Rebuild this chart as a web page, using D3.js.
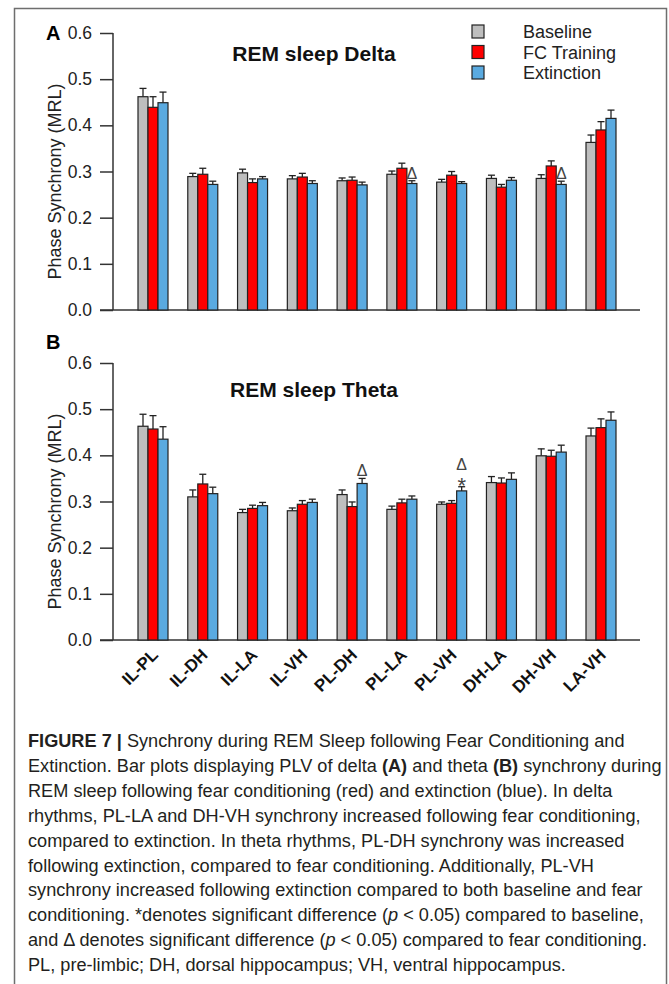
<!DOCTYPE html>
<html>
<head>
<meta charset="utf-8">
<script src="https://cdn.jsdelivr.net/npm/d3@7"></script>
<style>
  body { margin: 0; background: #fff; }
  svg { display: block; }
  text { font-family: "Liberation Sans", Arial, sans-serif; }
</style>
</head>
<body>
<div id="chart"></div>
<script>
var pairs = ["IL-PL", "IL-DH", "IL-LA", "IL-VH", "PL-DH", "PL-LA", "PL-VH", "DH-LA", "DH-VH", "LA-VH"];
var seriesNames = ["Baseline", "FC Training", "Extinction"];
var seriesColors = ["#bebebe", "#ff0000", "#5aaae0"];
var yTicks = [0, 0.1, 0.2, 0.3, 0.4, 0.5, 0.6];

// delta (panel A): means and SEM
var deltaBaseline = [0.462, 0.289, 0.297, 0.284, 0.280, 0.294, 0.277, 0.285, 0.285, 0.363];
var deltaBaselineErr = [0.018, 0.007, 0.008, 0.007, 0.006, 0.007, 0.006, 0.007, 0.008, 0.016];
var deltaFC = [0.439, 0.294, 0.276, 0.288, 0.281, 0.307, 0.292, 0.266, 0.312, 0.390];
var deltaFCErr = [0.023, 0.013, 0.008, 0.008, 0.007, 0.011, 0.008, 0.006, 0.011, 0.018];
var deltaExt = [0.449, 0.272, 0.284, 0.274, 0.271, 0.274, 0.274, 0.281, 0.272, 0.415];
var deltaExtErr = [0.023, 0.007, 0.005, 0.006, 0.006, 0.006, 0.004, 0.006, 0.007, 0.018];

// theta (panel B)
var thetaBaseline = [0.463, 0.310, 0.276, 0.280, 0.315, 0.283, 0.294, 0.341, 0.399, 0.442];
var thetaBaselineErr = [0.026, 0.015, 0.007, 0.006, 0.010, 0.007, 0.005, 0.013, 0.015, 0.017];
var thetaFC = [0.457, 0.338, 0.285, 0.294, 0.289, 0.297, 0.296, 0.340, 0.398, 0.460];
var thetaFCErr = [0.029, 0.021, 0.007, 0.008, 0.010, 0.008, 0.006, 0.011, 0.013, 0.019];
var thetaExt = [0.435, 0.317, 0.291, 0.298, 0.339, 0.305, 0.323, 0.348, 0.407, 0.476];
var thetaExtErr = [0.027, 0.014, 0.007, 0.007, 0.011, 0.007, 0.009, 0.014, 0.015, 0.018];

// significance marks (series index 2 = Extinction)
var deltaMarks = [{pair: "PL-LA", series: 2, marks: ["Δ"]}, {pair: "DH-VH", series: 2, marks: ["Δ"]}];
var thetaMarks = [{pair: "PL-DH", series: 2, marks: ["Δ"]}, {pair: "PL-VH", series: 2, marks: ["Δ", "*"]}];

var captionLines = [
  [["FIGURE 7 | ", "b"], ["Synchrony during REM Sleep following Fear Conditioning and", ""]],
  [["Extinction. Bar plots displaying PLV of delta ", ""], ["(A)", "b"], [" and theta ", ""], ["(B)", "b"], [" synchrony during", ""]],
  [["REM sleep following fear conditioning (red) and extinction (blue). In delta", ""]],
  [["rhythms, PL-LA and DH-VH synchrony increased following fear conditioning,", ""]],
  [["compared to extinction. In theta rhythms, PL-DH synchrony was increased", ""]],
  [["following extinction, compared to fear conditioning. Additionally, PL-VH", ""]],
  [["synchrony increased following extinction compared to both baseline and fear", ""]],
  [["conditioning. *denotes significant difference (", ""], ["p", "i"], [" < 0.05) compared to baseline,", ""]],
  [["and Δ denotes significant difference (", ""], ["p", "i"], [" < 0.05) compared to fear conditioning.", ""]],
  [["PL, pre-limbic; DH, dorsal hippocampus; VH, ventral hippocampus.", ""]]
];

var width = 669, height = 984;

var svg = d3.select("#chart").append("svg")
    .attr("width", width)
    .attr("height", height);

svg.append("rect")
    .attr("x", 14.5).attr("y", 8.5)
    .attr("width", 652).attr("height", 990)
    .attr("fill", "none")
    .attr("stroke", "#6e6e6e")
    .attr("stroke-width", 1.5);

var x = d3.scalePoint().domain(pairs).range([153, 601]);
var xSub = d3.scaleBand().domain([0, 1, 2]).range([-15, 15]);

function drawPanel(opts) {
    var y = d3.scaleLinear().domain([0, 0.6]).range([opts.bottom, opts.top]);
    var g = svg.append("g");

    // y axis
    var yAxis = g.append("g")
        .attr("transform", "translate(113,0)")
        .call(d3.axisLeft(y).tickValues(yTicks).tickFormat(d3.format(".1f")).tickSize(13).tickPadding(8));
    yAxis.select(".domain").attr("stroke", "#333").attr("stroke-width", 1.5).attr("d", "M0," + y(0.6) + "V" + y(0));
    yAxis.selectAll(".tick line").attr("stroke", "#333").attr("stroke-width", 1.5);
    yAxis.selectAll(".tick text").attr("font-size", 17.5).attr("fill", "#222")
        .attr("font-family", "'Liberation Sans', Arial, sans-serif");

    // x axis line
    g.append("line")
        .attr("x1", 100).attr("x2", 640)
        .attr("y1", y(0)).attr("y2", y(0))
        .attr("stroke", "#333").attr("stroke-width", 1.5);

    g.append("text")
        .attr("transform", "translate(61," + ((y(0) + y(0.6)) / 2 + 10) + ") rotate(-90)")
        .attr("text-anchor", "middle")
        .attr("font-size", 18)
        .attr("fill", "#222")
        .text("Phase Synchrony (MRL)");

    g.append("text")
        .attr("x", 46).attr("y", opts.letterY)
        .attr("font-size", 20).attr("font-weight", "bold")
        .text(opts.letter);

    g.append("text")
        .attr("x", 314).attr("y", opts.titleY)
        .attr("text-anchor", "middle")
        .attr("font-size", 21).attr("font-weight", "bold")
        .attr("fill", "#111")
        .text(opts.title);

    var rows = [];
    pairs.forEach(function(p, i) {
        opts.means.forEach(function(m, s) {
            rows.push({pair: p, s: s, v: m[i], e: opts.errs[s][i]});
        });
    });

    var groups = g.selectAll(".bar")
        .data(rows)
        .enter().append("g")
        .attr("class", "bar");

    groups.append("line")
        .attr("x1", function(d) { return x(d.pair) + xSub(d.s) + xSub.bandwidth() / 2; })
        .attr("x2", function(d) { return x(d.pair) + xSub(d.s) + xSub.bandwidth() / 2; })
        .attr("y1", function(d) { return y(d.v); })
        .attr("y2", function(d) { return y(d.v + d.e); })
        .attr("stroke", "#222").attr("stroke-width", 1.3);
    groups.append("line")
        .attr("x1", function(d) { return x(d.pair) + xSub(d.s) + xSub.bandwidth() / 2 - 3.5; })
        .attr("x2", function(d) { return x(d.pair) + xSub(d.s) + xSub.bandwidth() / 2 + 3.5; })
        .attr("y1", function(d) { return y(d.v + d.e); })
        .attr("y2", function(d) { return y(d.v + d.e); })
        .attr("stroke", "#222").attr("stroke-width", 1.3);

    groups.append("rect")
        .attr("x", function(d) { return x(d.pair) + xSub(d.s); })
        .attr("width", xSub.bandwidth())
        .attr("y", function(d) { return y(d.v); })
        .attr("height", function(d) { return y(0) - y(d.v); })
        .attr("fill", function(d) { return seriesColors[d.s]; })
        .attr("stroke", "#222")
        .attr("stroke-width", 1.2);

    opts.marks.forEach(function(mk) {
        var i = pairs.indexOf(mk.pair);
        var top = y(opts.means[mk.series][i] + opts.errs[mk.series][i]);
        var cx = x(mk.pair) + xSub(mk.series) + xSub.bandwidth() / 2;
        var base = top - 2;
        mk.marks.slice().reverse().forEach(function(m) {
            if (m === "*") {
                g.append("text").attr("x", cx).attr("y", base + 8)
                    .attr("text-anchor", "middle").attr("font-size", 22)
                    .attr("fill", "#444").text("*");
                base -= 15;
            } else {
                g.append("text").attr("x", cx).attr("y", base)
                    .attr("text-anchor", "middle").attr("font-size", 16)
                    .attr("font-family", "'Liberation Serif', serif")
                    .attr("fill", "#444").text(m);
                base -= 12;
            }
        });
    });

    if (opts.xLabels) {
        g.selectAll(".xlab")
            .data(pairs)
            .enter().append("text")
            .attr("class", "xlab")
            .attr("transform", function(d) { return "translate(" + (x(d) + 6) + "," + (y(0) + 16) + ") rotate(-45)"; })
            .attr("text-anchor", "end")
            .attr("font-size", 17).attr("font-weight", "bold")
            .attr("fill", "#111")
            .text(function(d) { return d; });
    }
}

drawPanel({
    top: 33, bottom: 310, letter: "A", letterY: 40, title: "REM sleep Delta", titleY: 61,
    means: [deltaBaseline, deltaFC, deltaExt],
    errs: [deltaBaselineErr, deltaFCErr, deltaExtErr],
    marks: deltaMarks, xLabels: false
});
drawPanel({
    top: 363, bottom: 640, letter: "B", letterY: 349, title: "REM sleep Theta", titleY: 397,
    means: [thetaBaseline, thetaFC, thetaExt],
    errs: [thetaBaselineErr, thetaFCErr, thetaExtErr],
    marks: thetaMarks, xLabels: true
});

// legend
var legend = svg.append("g").selectAll("g")
    .data(seriesNames)
    .enter().append("g")
    .attr("transform", function(d, i) { return "translate(472," + (25 + i * 20.5) + ")"; });
legend.append("rect")
    .attr("width", 12).attr("height", 13)
    .attr("fill", function(d, i) { return seriesColors[i]; })
    .attr("stroke", "#222").attr("stroke-width", 1.2);
legend.append("text")
    .attr("x", 51).attr("y", 13)
    .attr("font-size", 18).attr("fill", "#222")
    .text(function(d) { return d; });

// caption
var cap = svg.append("g");
var capNodes = [];
captionLines.forEach(function(line, li) {
    var t = cap.append("text")
        .attr("y", 747 + li * 24.9)
        .attr("font-family", "Roboto, 'Liberation Sans', sans-serif")
        .attr("font-size", 18.5)
        .attr("fill", "#231f20");
    line.forEach(function(seg) {
        var ts = t.append("tspan").text(seg[0]);
        if (seg[1] === "b") ts.attr("font-weight", "bold");
        if (seg[1] === "i") ts.attr("font-style", "italic");
    });
    capNodes.push(t);
});
var k = 619 / capNodes[8].node().getComputedTextLength();
capNodes.forEach(function(t) {
    var yy = +t.attr("y");
    t.attr("y", null).attr("transform", "translate(28," + yy + ") scale(" + k + ",1)");
});
</script>
</body>
</html>
